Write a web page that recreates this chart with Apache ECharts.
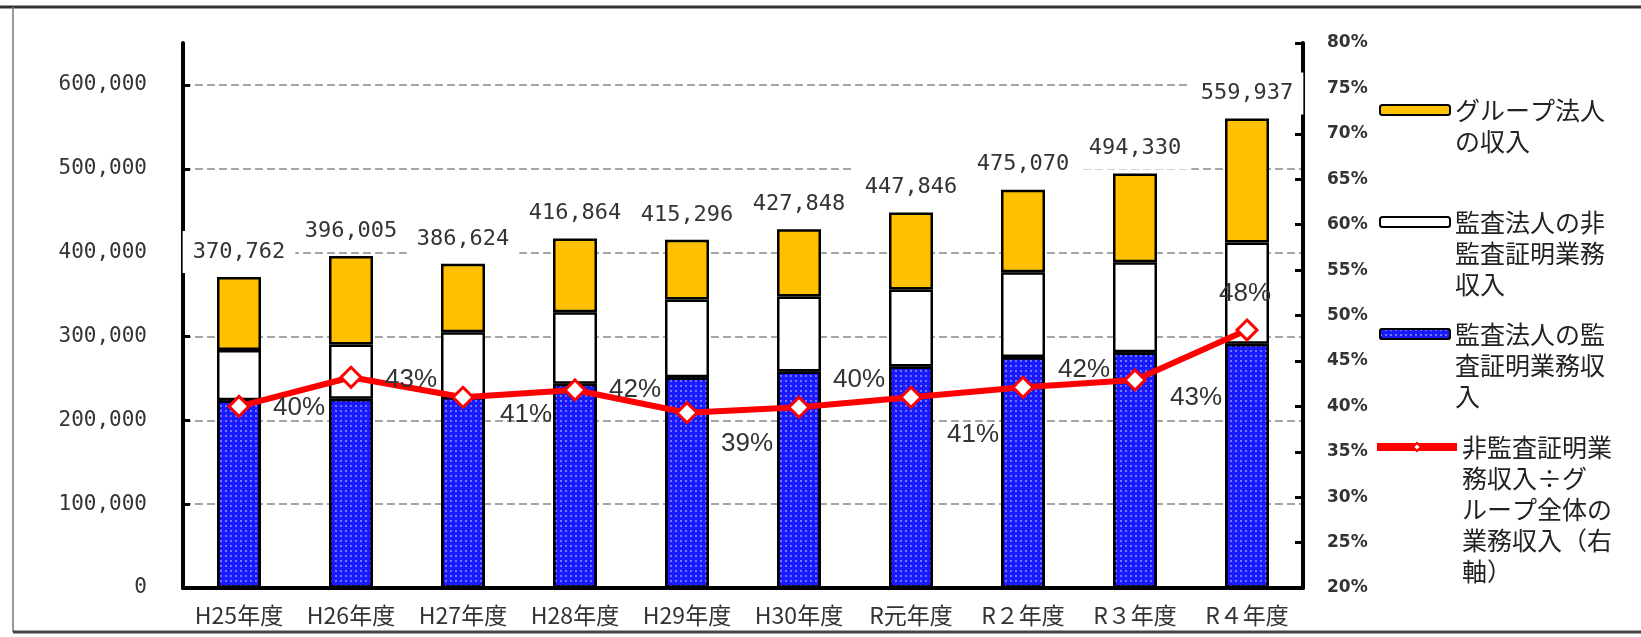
<!DOCTYPE html>
<html lang="ja">
<head>
<meta charset="utf-8">
<title>監査法人の業務収入の推移</title>
<script src="https://cdn.jsdelivr.net/npm/echarts@6.0.0/dist/echarts.min.js"></script>
<style>
  html, body { margin: 0; padding: 0; background: #fff; }
  #chart { width: 1641px; height: 637px; }
</style>
</head>
<body>
<div id="chart"></div>
<script>
const categories = ['H25年度', 'H26年度', 'H27年度', 'H28年度', 'H29年度', 'H30年度', 'R元年度', 'R２年度', 'R３年度', 'R４年度'];

// 監査法人の監査証明業務収入
const auditRevenue = [223800, 225800, 228000, 243700, 251500, 258300, 264300, 275400, 281300, 291300];
// 監査法人の非監査証明業務収入
const nonAuditRevenue = [60200, 64700, 77000, 85300, 92500, 89300, 91700, 101200, 107200, 120700];
// グループ法人の収入
const groupRevenue = [86800, 105500, 81600, 87900, 71300, 80200, 91800, 98500, 105800, 147900];
// totals printed above the bars
const totals = [370762, 396005, 386624, 416864, 415296, 427848, 447846, 475070, 494330, 559937];
// 非監査証明業務収入÷グループ全体の業務収入 (%)
const nonAuditRatio = [40.0, 43.2, 41.0, 41.8, 39.3, 39.9, 41.0, 42.1, 42.9, 48.4];

// where each % label sits relative to its point
const ratioLabelOffsets = [[60, 1], [60, 3], [63, 18], [60, 0], [60, 31], [60, -27], [62, 38], [61, -17], [61, 18], [-2, -36]];

const NAME_GROUP = 'グループ法人の収入';
const NAME_NONAUDIT = '監査法人の非監査証明業務収入';
const NAME_AUDIT = '監査法人の監査証明業務収入';
const NAME_RATIO = '非監査証明業務収入÷グループ全体の業務収入（右軸）';

const legendText = {};
legendText[NAME_GROUP] = 'グループ法人\nの収入';
legendText[NAME_NONAUDIT] = '監査法人の非\n監査証明業務\n収入';
legendText[NAME_AUDIT] = '監査法人の監\n査証明業務収\n入';
legendText[NAME_RATIO] = '非監査証明業\n務収入÷グ\nループ全体の\n業務収入（右\n軸）';

const CJK = '"Noto Sans CJK JP", "Noto Sans", sans-serif';
const MONO = '"DejaVu Sans Mono", monospace';

// legend symbol sits beside the first line: pad the text block on top with empty lines
function legendAt(name, symbolY, extra) {
  const lh = 31;
  const lines = legendText[name].split('\n').length;
  const pad = '\n'.repeat(lines - 1);
  return Object.assign({
    data: [name],
    orient: 'vertical',
    left: 1379,
    top: symbolY - (2 * lines - 1) * lh / 2,
    padding: 0,
    itemWidth: 70,
    itemHeight: 10,
    selectedMode: false,
    formatter: n => pad + legendText[n],
    textStyle: { fontFamily: CJK, fontSize: 25, lineHeight: lh, color: '#222' }
  }, extra || {});
}

const chart = echarts.init(document.getElementById('chart'));

const option = {
  animation: false,
  backgroundColor: '#fff',
  grid: { left: 183, right: 338, top: 43, bottom: 49 },
  legend: [
    legendAt(NAME_GROUP, 110),
    legendAt(NAME_NONAUDIT, 222),
    legendAt(NAME_AUDIT, 334),
    legendAt(NAME_RATIO, 447, { left: 1373, itemWidth: 80, lineStyle: { width: 8 } })
  ],
  xAxis: {
    type: 'category',
    data: categories,
    axisLine: { lineStyle: { color: '#000', width: 4 } },
    axisTick: { length: 8, lineStyle: { color: '#000', width: 3 } },
    axisLabel: { interval: 0, fontFamily: CJK, fontSize: 23, color: '#333', margin: 16 }
  },
  yAxis: [
    {
      type: 'value',
      min: 0,
      max: 650000,
      interval: 100000,
      axisLine: { show: true, lineStyle: { color: '#000', width: 4 } },
      axisTick: { show: true, inside: true, length: 7, lineStyle: { color: '#000', width: 3 } },
      axisLabel: {
        showMaxLabel: false,
        fontFamily: MONO, fontSize: 21, color: '#333', margin: 36,
        formatter: v => v.toLocaleString('en-US')
      },
      splitLine: { show: true, showMaxLine: false, lineStyle: { color: '#888', width: 1.5, type: [8, 4] } }
    },
    {
      type: 'value',
      min: 20,
      max: 80,
      interval: 5,
      position: 'right',
      axisLine: { show: true, lineStyle: { color: '#000', width: 4 } },
      axisTick: { show: true, inside: true, length: 8, lineStyle: { color: '#000', width: 3 } },
      axisLabel: {
        fontFamily: '"DejaVu Sans", sans-serif', fontWeight: 'bold', fontSize: 17, color: '#333', margin: 24,
        formatter: '{value}%'
      },
      splitLine: { show: false }
    }
  ],
  series: [
    {
      name: NAME_AUDIT,
      type: 'bar',
      stack: 'total',
      barWidth: 44,
      data: auditRevenue,
      itemStyle: {
        color: '#1a1aff',
        borderColor: '#000',
        borderWidth: 2.5,
        decal: {
          symbol: 'circle',
          symbolSize: 0.9,
          dashArrayX: [2, 3],
          dashArrayY: [2, 3],
          color: 'rgba(200,210,255,0.75)'
        }
      }
    },
    {
      name: NAME_NONAUDIT,
      type: 'bar',
      stack: 'total',
      barWidth: 44,
      data: nonAuditRevenue,
      itemStyle: { color: '#fff', borderColor: '#000', borderWidth: 2.5 }
    },
    {
      name: NAME_GROUP,
      type: 'bar',
      stack: 'total',
      barWidth: 44,
      data: groupRevenue,
      itemStyle: { color: '#ffc000', borderColor: '#000', borderWidth: 2.5 },
      label: {
        show: true,
        position: 'top',
        distance: 4,
        formatter: p => totals[p.dataIndex].toLocaleString('en-US'),
        fontFamily: MONO,
        fontSize: 22,
        color: '#333',
        backgroundColor: '#fff',
        padding: [10, 10]
      }
    },
    {
      name: NAME_RATIO,
      type: 'line',
      yAxisIndex: 1,
      z: 5,
      data: nonAuditRatio.map((v, i) => ({ value: v, label: { offset: ratioLabelOffsets[i] } })),
      symbol: 'diamond',
      symbolSize: 20,
      lineStyle: { color: '#ff0000', width: 6 },
      itemStyle: { color: '#fff', borderColor: '#ff0000', borderWidth: 3 },
      label: {
        show: true,
        position: 'inside',
        formatter: p => Math.round(p.value) + '%',
        fontFamily: '"Liberation Sans", Arial, sans-serif',
        fontSize: 26,
        color: '#333'
      }
    }
  ],
  graphic: [
    { type: 'line', silent: true, shape: { x1: 0, y1: 7, x2: 1641, y2: 7 }, style: { stroke: '#333', lineWidth: 3 } },
    { type: 'line', silent: true, shape: { x1: 13, y1: 7, x2: 13, y2: 632 }, style: { stroke: '#777', lineWidth: 1.5 } },
    { type: 'line', silent: true, shape: { x1: 13, y1: 632, x2: 1641, y2: 632 }, style: { stroke: '#444', lineWidth: 3 } }
  ]
};

chart.setOption(option);
window.addEventListener('resize', () => chart.resize());
</script>
</body>
</html>
